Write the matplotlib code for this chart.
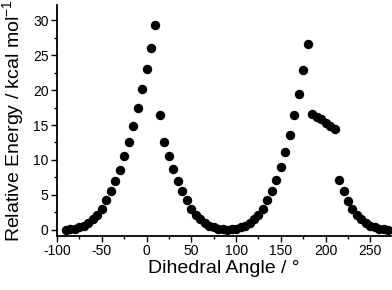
import matplotlib
matplotlib.use("Agg")
import matplotlib.pyplot as plt
from matplotlib.ticker import MultipleLocator

angles = list(range(-90, 275, 5))
energy = [
    0.0, 0.05, 0.15, 0.35, 0.6, 1.0, 1.5, 2.1, 3.0, 4.2,   # -90 .. -45
    5.5, 7.0, 8.6, 10.6, 12.6, 14.9, 17.4, 20.1, 23.0, 26.0,  # -40 .. 5
    29.4, 16.5, 12.6, 10.6, 8.7, 7.0, 5.5, 4.2, 3.0, 2.1,   # 10 .. 55
    1.5, 1.0, 0.6, 0.35, 0.15, 0.05, 0.0, 0.05, 0.15, 0.35,  # 60 .. 105
    0.6, 1.0, 1.5, 2.1, 3.0, 4.2, 5.5, 7.1, 9.0, 11.1,  # 110 .. 155
    13.6, 16.4, 19.5, 22.9, 26.6, 16.6, 16.2, 15.8, 15.3, 14.9,  # 160 .. 205
    14.4, 7.1, 5.5, 4.1, 3.0, 2.1, 1.5, 1.0, 0.6, 0.35,  # 210 .. 255
    0.15, 0.05, 0.0,  # 260 .. 270
]
xticks = [-100, -50, 0, 50, 100, 150, 200, 250]
yticks = [0, 5, 10, 15, 20, 25, 30]

plt.rcParams['font.family'] = ['Liberation Sans', 'DejaVu Sans']
plt.rcParams['axes.unicode_minus'] = False
fig = plt.figure(figsize=(3.92, 2.90), dpi=100)
W, H = 392, 290
left, right, bottom, top = 57, 391, 236, 5
ax = fig.add_axes([left / W, 1 - bottom / H, (right - left) / W, (bottom - top) / H])

ax.plot(angles, energy, 'o', color='black', markersize=6.8, markeredgewidth=0)
ax.set_xlim(-100, 273)
ax.set_ylim(-0.9, 32.2)
ax.set_xticks(xticks)
ax.set_yticks(yticks)
ax.xaxis.set_minor_locator(MultipleLocator(25))
ax.yaxis.set_minor_locator(MultipleLocator(2.5))
for s in ['top', 'right']:
    ax.spines[s].set_visible(False)
for s in ['left', 'bottom']:
    ax.spines[s].set_linewidth(1.3)
ax.tick_params(which='major', direction='out', length=4, width=1.0, labelsize=10, pad=2)
ax.tick_params(which='minor', direction='out', length=2.5, width=1.0)
ax.set_xlabel('Dihedral Angle / °', fontsize=14, labelpad=1)
ax.set_ylabel('Relative Energy / kcal mol$^{\\mathregular{-1}}$', fontsize=14, labelpad=4)
fig.savefig('out.png', dpi=100)
